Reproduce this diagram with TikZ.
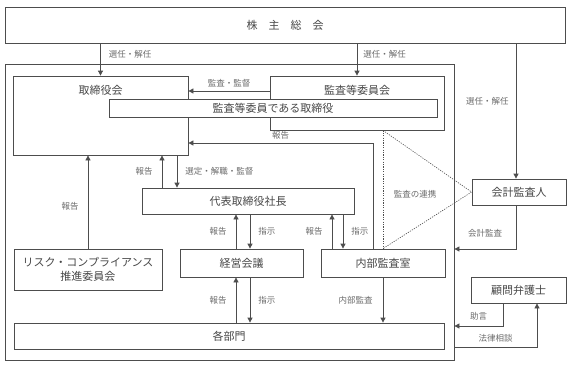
\documentclass[tikz,border=0pt]{standalone}
\usepackage{fontspec}
\newfontfamily\jp{Noto Sans CJK JP}
\usetikzlibrary{arrows.meta,positioning}
\definecolor{ink}{HTML}{474747}
\definecolor{edge}{HTML}{4D4D4D}
\definecolor{note}{HTML}{6B6B6B}

\begin{document}
\begin{tikzpicture}[x=1pt,y=-1pt,font=\jp\fontsize{11}{14}\selectfont,
    box/.style={draw=edge,line width=0.8pt,text=ink,align=center,inner sep=2pt},
    arr/.style={draw=edge,line width=0.8pt,-{Triangle[length=5pt,width=5pt]}},
    link/.style={draw=edge,line width=0.6pt,dash pattern=on 1.2pt off 1.2pt},
    lbl/.style={font=\jp\fontsize{8.5}{10}\selectfont,text=note,inner sep=3pt}]
  \useasboundingbox (0,0) rectangle (573,365);
  % boxes
  \node[box,minimum width=560pt,minimum height=36pt] (gm) at (285,25) {株\hspace{1em}主\hspace{1em}総\hspace{1em}会};
  \node[box,minimum width=449pt,minimum height=296pt] (co) at (229.5,212) {};
  \node[box,minimum width=175pt,minimum height=79pt,
    label={[anchor=north,yshift=-6pt,text=ink]north:取締役会}] (bd) at (100.5,115.5) {};
  \node[box,minimum width=174pt,minimum height=54pt,
    label={[anchor=north,yshift=-6pt,text=ink]north:監査等委員会}] (ac) at (357,103) {};
  \node[box,fill=white,minimum width=328pt,minimum height=18pt] (ad) at (273,108) {監査等委員である取締役};
  \node[box,minimum width=212pt,minimum height=26pt] (ceo) at (248,201) {代表取締役社長};
  \node[box,minimum width=148pt,minimum height=41pt] (rc) at (88,269.5) {リスク・コンプライアンス\\推進委員会};
  \node[box,minimum width=123pt,minimum height=28pt] (mg) at (241.5,263) {経営会議};
  \node[box,minimum width=124pt,minimum height=28pt] (ia) at (383,263) {内部監査室};
  \node[box,minimum width=430pt,minimum height=26pt] (dp) at (229,336) {各部門};
  \node[box,minimum width=94pt,minimum height=26pt] (ea) at (519,192) {会計監査人};
  \node[box,minimum width=95pt,minimum height=26pt] (lw) at (518.5,290) {顧問弁護士};
  % appointment
  \draw[arr] (bd.north |- gm.south) -- (bd.north) node[lbl,pos=0.35,right=5pt] {選任・解任};
  \draw[arr] (ac.north |- gm.south) -- (ac.north) node[lbl,pos=0.35,right=3pt] {選任・解任};
  \draw[arr] ([xshift=-3pt]ea.north |- gm.south) -- ([xshift=-3pt]ea.north) node[lbl,pos=0.43,left=4pt] {選任・解任};
  \draw[arr] ([yshift=12pt]ac.west) -- ([yshift=12pt]ac.west -| bd.east) node[lbl,midway,above] {監査・監督};
  \draw[arr] ([xshift=-10pt]ia.north) |- ([yshift=-27.5pt]bd.east) node[lbl,pos=0.75,above] {報告};
  % audit cooperation
  \draw[link] (ia.north |- ac.south) -- (ia.north);
  \draw[link] (ia.north |- ac.south) -- (ea.west) -- (ia.north);
  \node[lbl] (coop) at (415,194) {監査の連携};
  % report / instruction
  \foreach \hi/\lo/\a/\b/\t in {bd/ceo/-86/-71/選定・解職・監督,ceo/mg/-5.5/8.5/指示,
      ceo/ia/-51/-40/指示,mg/dp/7/21/指示}{
    \draw[arr] ([xshift=\a pt]\lo.north) -- ([xshift=\a pt]\lo.north |- \hi.south) node[lbl,midway,left=6pt] {報告};
    \draw[arr] ([xshift=\b pt]\lo.north |- \hi.south) -- ([xshift=\b pt]\lo.north) node[lbl,midway,right=5pt] {\t};}
  \draw[arr] (rc.north) -- (rc.north |- bd.south) node[lbl,pos=0.45,left=6pt] {報告};
  \draw[arr] (ia.south) -- (ia.south |- dp.north) node[lbl,midway,left=7pt] {内部監査};
  % outside
  \draw[arr] ([xshift=-3pt]ea.south) |- ([yshift=-37pt]co.east) node[lbl,pos=0.75,above=8pt] {会計監査};
  \draw[arr] ([xshift=-15.5pt]lw.south) |- ([yshift=-114pt]co.east) node[lbl,pos=0.75,above=2pt] {助言};
  \draw[arr] ([yshift=-135pt]co.east) -| ([xshift=18.5pt]lw.south) node[lbl,pos=0.25,above=1pt] {法律相談};
\end{tikzpicture}
\end{document}
